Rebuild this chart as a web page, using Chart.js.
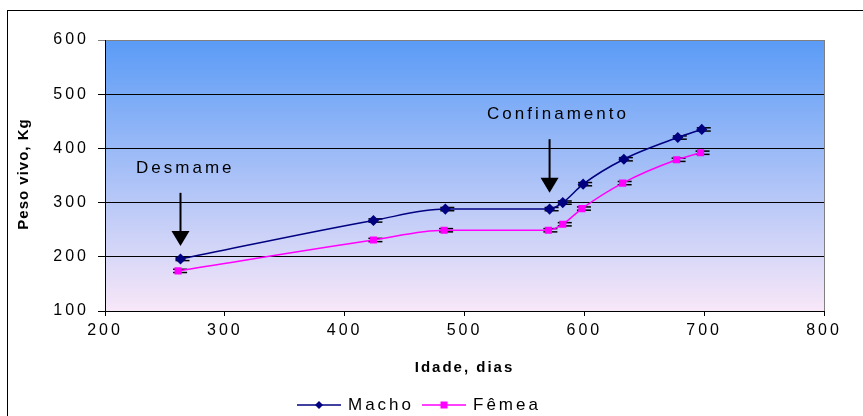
<!DOCTYPE html>
<html>
<head>
<meta charset="utf-8">
<script src="https://cdn.jsdelivr.net/npm/chart.js@4"></script>
<style>
  html, body { margin: 0; padding: 0; background: #fff; }
  #wrap { width: 863px; height: 416px; }
</style>
</head>
<body>
<div id="wrap"><canvas id="chart" width="863" height="416"></canvas></div>
<script>
// age (days) and live weight (kg)
const ageMacho = [263, 424, 484, 571, 582, 599, 633, 678, 698];
const pesoMacho = [196, 267, 288, 288, 300, 334, 380, 420, 435];
const errMacho = [3, 3, 3, 3, 3, 3, 3, 3, 3];

const ageFemea = [261, 424, 483, 570, 582, 598, 632, 677, 697];
const pesoFemea = [174, 231, 249, 249, 260, 289, 336, 379, 392];
const errFemea = [3, 3, 3, 3, 3, 3, 3, 3, 3];

const xTicks = [200, 300, 400, 500, 600, 700, 800];
const yTicks = [100, 200, 300, 400, 500, 600];

// arrows with their labels, in data units
const notes = [
    { text: 'Desmame', x: 263, textX: 267, textY: 364, from: 318, to: 220 },
    { text: 'Confinamento', x: 571, textX: 578, textY: 463, from: 417, to: 318 }
];

const FONT = "'Liberation Sans', Arial, sans-serif";

function toPoints(xs, ys) {
    return xs.map((x, i) => ({ x: x, y: ys[i] }));
}

const decor = {
    id: 'decor',
    beforeDraw(chart) {
        const ctx = chart.ctx;
        const a = chart.chartArea;
        ctx.save();
        ctx.fillStyle = '#fff';
        ctx.fillRect(0, 0, chart.width, chart.height);
        // outer frame of the chart object
        ctx.strokeStyle = '#000';
        ctx.lineWidth = 1;
        ctx.strokeRect(7.5, 10.5, 1000, 1000);
        // plot area gradient
        const g = ctx.createLinearGradient(0, a.top, 0, a.bottom);
        g.addColorStop(0, '#5a9bf6');
        g.addColorStop(1, '#f8e7f8');
        ctx.fillStyle = g;
        ctx.fillRect(a.left, a.top, a.right - a.left, a.bottom - a.top);
        ctx.restore();
        // the original text is drawn wide; keep that for the tick labels too
        ctx.letterSpacing = '3px';
    },
    beforeDatasetsDraw(chart) {
        // small error bars, drawn under the markers
        const ctx = chart.ctx;
        const xs = chart.scales.x, ys = chart.scales.y;
        const sets = [[ageMacho, pesoMacho, errMacho], [ageFemea, pesoFemea, errFemea]];
        ctx.save();
        ctx.strokeStyle = '#000';
        ctx.lineWidth = 1.5;
        sets.forEach(([ax, py, er]) => {
            ax.forEach((v, i) => {
                const px = xs.getPixelForValue(v) + 2;
                [py[i] + er[i], py[i] - er[i]].forEach(val => {
                    const y = ys.getPixelForValue(val);
                    ctx.beginPath();
                    ctx.moveTo(px - 7, y);
                    ctx.lineTo(px + 7, y);
                    ctx.stroke();
                });
            });
        });
        ctx.restore();
    },
    afterDraw(chart) {
        const ctx = chart.ctx;
        const a = chart.chartArea;
        const xs = chart.scales.x, ys = chart.scales.y;
        ctx.save();
        // right edge of plot area
        ctx.strokeStyle = '#808080';
        ctx.lineWidth = 1;
        ctx.beginPath();
        ctx.moveTo(Math.round(a.right) + 0.5, a.top);
        ctx.lineTo(Math.round(a.right) + 0.5, a.bottom);
        ctx.stroke();

        // arrows and labels
        ctx.fillStyle = '#000';
        ctx.strokeStyle = '#000';
        ctx.font = '17px ' + FONT;
        ctx.letterSpacing = '3px';
        ctx.textAlign = 'center';
        ctx.textBaseline = 'middle';
        notes.forEach(n => {
            ctx.fillText(n.text, xs.getPixelForValue(n.textX), ys.getPixelForValue(n.textY));
            const x = xs.getPixelForValue(n.x);
            const y0 = ys.getPixelForValue(n.from);
            const y1 = ys.getPixelForValue(n.to);
            ctx.lineWidth = 2;
            ctx.beginPath();
            ctx.moveTo(x, y0);
            ctx.lineTo(x, y1 - 14);
            ctx.stroke();
            ctx.beginPath();
            ctx.moveTo(x - 9, y1 - 15);
            ctx.lineTo(x + 9, y1 - 15);
            ctx.lineTo(x, y1);
            ctx.closePath();
            ctx.fill();
        });

        // axis titles
        ctx.font = 'bold 15px ' + FONT;
        ctx.letterSpacing = '2px';
        ctx.fillText('Idade, dias', (a.left + a.right) / 2, 368);
        ctx.save();
        ctx.translate(24, 174);
        ctx.rotate(-Math.PI / 2);
        ctx.letterSpacing = '1px';
        ctx.fillText('Peso vivo, Kg', 0, 0);
        ctx.restore();

        // legend
        ctx.font = '17px ' + FONT;
        ctx.letterSpacing = '3px';
        ctx.textAlign = 'left';
        let lx = 297;
        const ly = 405;
        chart.data.datasets.forEach(ds => {
            ctx.strokeStyle = ds.borderColor;
            ctx.lineWidth = 1.5;
            ctx.beginPath();
            ctx.moveTo(lx, ly);
            ctx.lineTo(lx + 44, ly);
            ctx.stroke();
            ctx.fillStyle = ds.borderColor;
            const cx = lx + 22;
            if (ds.pointStyle === 'rect') {
                ctx.fillRect(cx - 3.5, ly - 3.5, 7, 7);
            } else {
                ctx.beginPath();
                ctx.moveTo(cx, ly - 4);
                ctx.lineTo(cx + 4, ly);
                ctx.lineTo(cx, ly + 4);
                ctx.lineTo(cx - 4, ly);
                ctx.closePath();
                ctx.fill();
            }
            ctx.fillStyle = '#000';
            ctx.fillText(ds.label, lx + 51, ly);
            lx += 51 + ctx.measureText(ds.label).width + 8;
        });
        ctx.restore();
        ctx.letterSpacing = '0px';
    }
};

new Chart(document.getElementById('chart'), {
    type: 'line',
    data: {
        datasets: [
            {
                label: 'Macho',
                data: toPoints(ageMacho, pesoMacho),
                borderColor: '#000080',
                backgroundColor: '#000080',
                borderWidth: 1.5,
                pointStyle: 'rectRot',
                pointRadius: 4.5,
                cubicInterpolationMode: 'monotone'
            },
            {
                label: 'Fêmea',
                data: toPoints(ageFemea, pesoFemea),
                borderColor: '#ff00ff',
                backgroundColor: '#ff00ff',
                borderWidth: 1.5,
                pointStyle: 'rect',
                pointRadius: 4,
                cubicInterpolationMode: 'monotone'
            }
        ]
    },
    options: {
        responsive: false,
        animation: false,
        layout: { padding: { left: 0, right: 39, top: 40, bottom: 75 } },
        plugins: {
            legend: { display: false },
            tooltip: { enabled: false }
        },
        scales: {
            x: {
                type: 'linear',
                min: 200,
                max: 800,
                afterBuildTicks: s => { s.ticks = xTicks.map(v => ({ value: v })); },
                afterFit: s => { s.height = 30; },
                grid: { drawOnChartArea: false, tickLength: 5, color: '#000' },
                border: { color: '#000' },
                ticks: { color: '#000', padding: 5, font: { family: FONT, size: 16 } }
            },
            y: {
                min: 100,
                max: 600,
                afterBuildTicks: s => { s.ticks = yTicks.map(v => ({ value: v })); },
                afterFit: s => { s.width = 105; },
                grid: {
                    tickLength: 7,
                    color: c => (c.tick && c.tick.value === 600) ? '#808080' : '#000'
                },
                border: { color: '#000' },
                ticks: { color: '#000', padding: 9, font: { family: FONT, size: 16 } }
            }
        }
    },
    plugins: [decor]
});
</script>
</body>
</html>
